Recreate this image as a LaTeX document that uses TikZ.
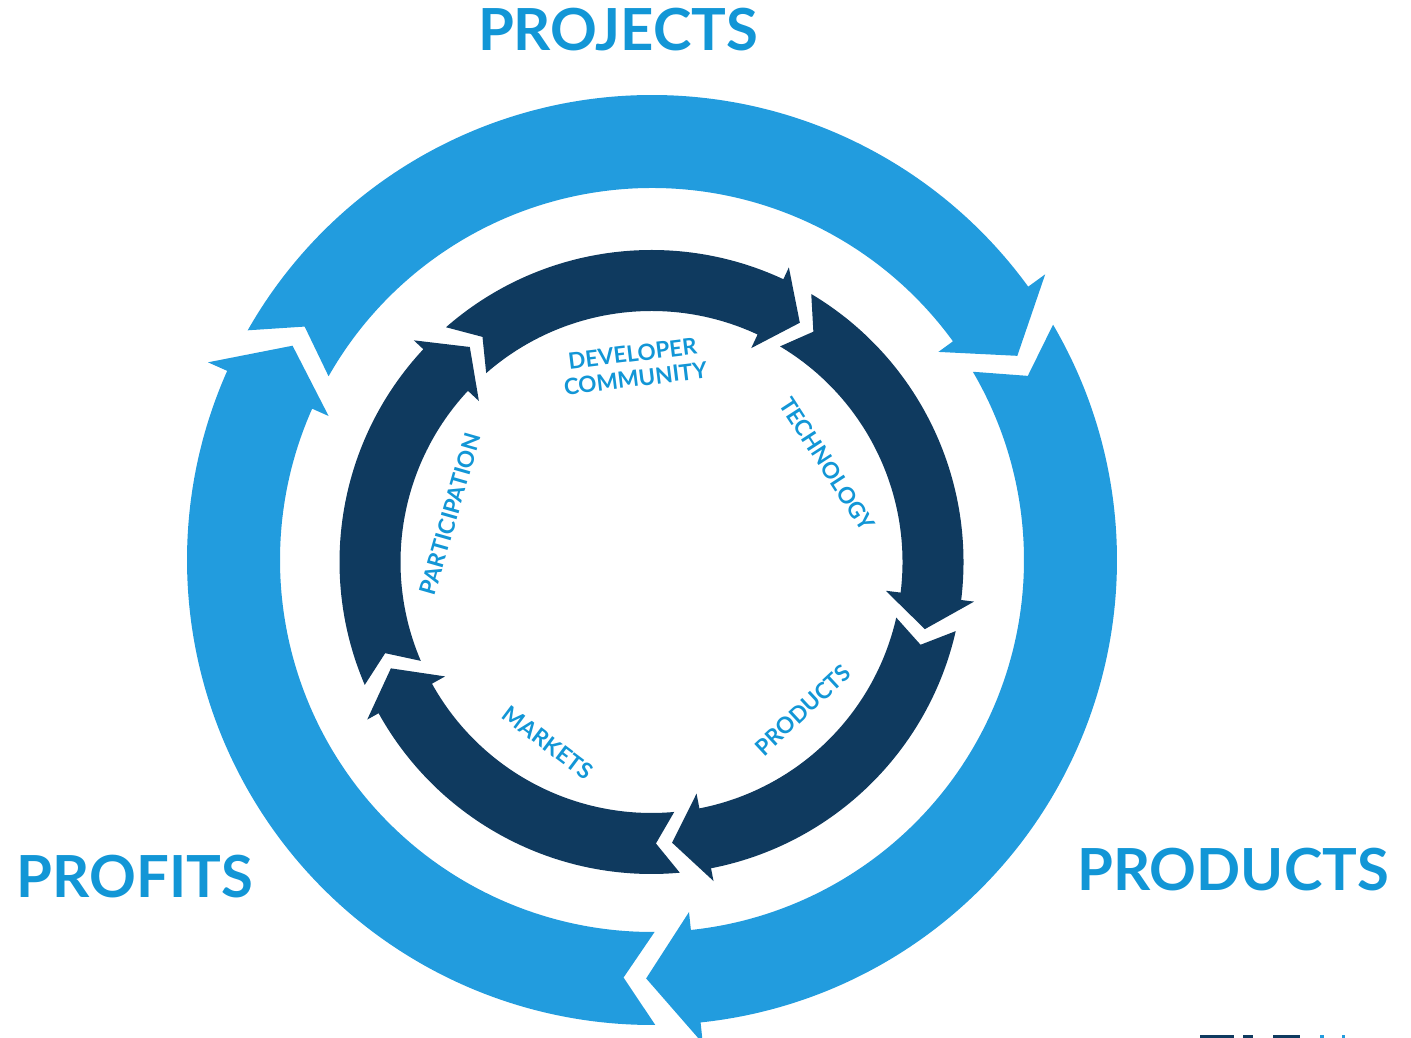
\documentclass[tikz,border=0pt]{standalone}
\usepackage{fontspec}
\setmainfont{Lato}
\definecolor{outerblue}{RGB}{34,156,222}
\definecolor{innernavy}{RGB}{15,58,95}
\definecolor{labelblue}{RGB}{18,150,214}
% #1 center x, #2 center y, #3 tail angle, #4 head base angle, #5 Rin, #6 Rout, #7 barb in, #8 barb out, #9 colour
\newcommand\ringseg[9]{%
  \pgfmathsetmacro\rmid{(#5+#6)/2}%
  \fill[#9,shift={(#1,#2)}] (#3:#6pt) arc[start angle=#3, end angle=#4, radius=#6pt]
    -- (#4:#8pt) -- ({#4-6.8}:\rmid pt) -- (#4:#7pt) -- (#4:#5pt)
    arc[start angle=#4, end angle=#3, radius=#5pt]
    -- ({#3-4.3}:\rmid pt) -- cycle;}
\begin{document}
\begin{tikzpicture}[x=1pt,y=1pt,
  biglabel/.style={text=labelblue,font=\fontsize{58}{64}\selectfont\bfseries,inner sep=0pt},
  smalllabel/.style={text=labelblue,font=\fontsize{22.5}{25}\selectfont\bfseries,inner sep=0pt,align=center}]
\useasboundingbox (0,0) rectangle (1411,1038);
% outer ring
\ringseg{652}{478}{150.4}{36}{372}{465}{354}{486}{outerblue}
\ringseg{652}{478}{30.4}{-84}{372}{465}{354}{486}{outerblue}
\ringseg{652}{478}{270.4}{156}{372}{465}{354}{486}{outerblue}
% inner ring
\ringseg{651.5}{476}{131.2}{65}{251}{312}{236}{325}{innernavy}
\ringseg{651.5}{476}{59.2}{-7}{251}{312}{236}{325}{innernavy}
\ringseg{651.5}{476}{-12.8}{-79}{251}{312}{236}{325}{innernavy}
\ringseg{651.5}{476}{-84.8}{-151}{251}{312}{236}{325}{innernavy}
\ringseg{651.5}{476}{-156.8}{-223}{251}{312}{236}{325}{innernavy}
% big labels
\node[biglabel] (projects) at (618,1008) {PROJECTS};
\node[biglabel] (profits) at (135,161) {PROFITS};
\node[biglabel] (products) at (1233,168) {PRODUCTS};
% inner labels
\node[smalllabel,rotate=7] (devcom) at (634,672) {DEVELOPER\\COMMUNITY};
\node[smalllabel,rotate=-57] (tech) at (827,574) {TECHNOLOGY};
\node[smalllabel,rotate=43] (prod) at (803,328) {PRODUCTS};
\node[smalllabel,rotate=-37] (markets) at (548,295) {MARKETS};
\node[smalllabel,rotate=74] (partic) at (450,524) {PARTICIPATION};
% cropped text fragments at bottom edge
\fill[innernavy] (1200,0) rectangle (1234,3);
\fill[innernavy] (1243,0) rectangle (1253,3);
\fill[innernavy] (1273,0) rectangle (1300,3);
\fill[outerblue] (1320,0) rectangle (1324,3);
\fill[outerblue] (1342,0) rectangle (1345,3);
\end{tikzpicture}
\end{document}
